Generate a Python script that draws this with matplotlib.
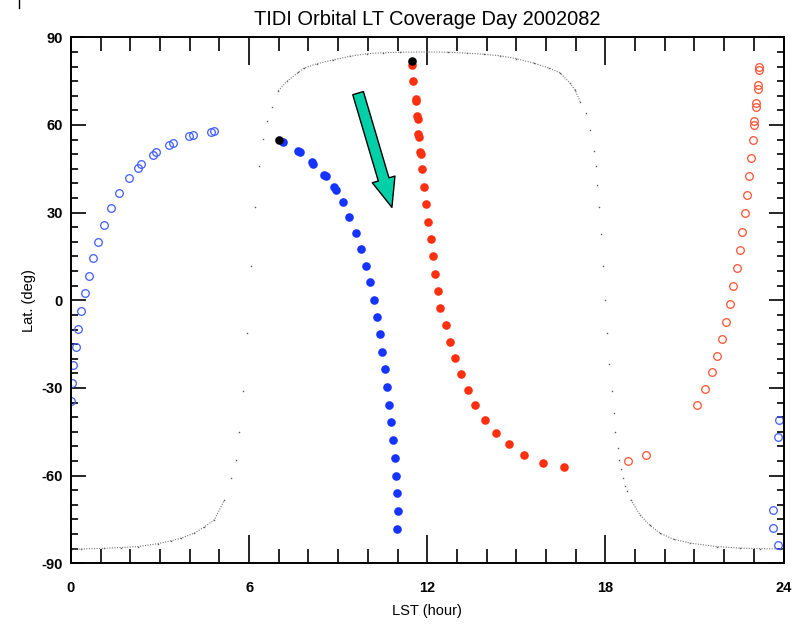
import numpy as np
import matplotlib
matplotlib.use("Agg")
import matplotlib.pyplot as plt
from matplotlib.patches import FancyArrowPatch
from matplotlib.lines import Line2D
from matplotlib.ticker import MultipleLocator

plt.rcParams["font.family"] = ["Liberation Sans", "DejaVu Sans"]
plt.rcParams["axes.unicode_minus"] = False

# day/night boundary (gray dots)
term_lst = [0.0, 0.34, 1.12, 1.68, 2.25, 2.92, 3.37, 3.71, 4.15, 4.49, 4.83, 5.17,
            5.38, 5.55, 5.67, 5.81, 5.92, 6.05, 6.19, 6.34, 6.47, 6.59, 6.76, 6.98,
            7.27, 7.66, 7.85, 8.30, 8.84, 9.40, 9.96, 10.50, 11.08, 11.98, 12.70, 13.33,
            13.90, 14.45, 15.00, 15.58, 16.10, 16.48,
            16.81, 16.98, 17.15, 17.35, 17.48, 17.60, 17.67, 17.73, 17.80, 17.86,
            17.92, 17.99, 18.06, 18.13, 18.22, 18.29, 18.34, 18.41, 18.47, 18.53,
            18.60, 18.67, 18.73, 18.86, 19.17, 19.50, 19.84, 20.30, 20.86, 21.76,
            22.54, 23.20, 23.89, 24.0]
term_lat = [-85.3, -85.1, -84.9, -84.6, -84.3, -83.3, -82.3, -81.4, -79.7, -77.6, -75.1, -68.3,
            -60.8, -54.7, -45.2, -31.2, -11.2, 11.8, 31.9, 45.8, 55.2, 61.4, 66.0, 71.7,
            74.9, 78.0, 79.5, 81.0, 82.3, 83.5, 84.4, 84.7, 84.9, 85.0, 84.9, 84.6,
            84.2, 83.7, 82.7, 81.2, 79.5, 77.8,
            74.3, 72.0, 68.0, 64.1, 58.4, 51.1, 45.8, 39.3, 31.9, 22.7,
            11.8, 0.2, -11.2, -21.8, -31.2, -38.7, -45.2, -50.5, -54.7, -57.9,
            -60.8, -63.4, -65.4, -68.3, -73.5, -77.0, -79.7, -81.8, -83.1, -84.3,
            -84.8, -85.0, -85.1, -85.2]

# ascending, night side (blue open)
asc_open_lst = [4.82, 4.72, 4.12, 3.98, 3.43, 3.31, 2.86, 2.75, 2.36, 2.27, 1.96, 1.63,
                1.35, 1.12, 0.92, 0.74, 0.61, 0.47, 0.35, 0.25, 0.17, 0.08, 0.02, 0.0,
                23.86, 23.80, 23.66, 23.66, 23.83]
asc_open_lat = [57.8, 57.6, 56.7, 56.1, 54.0, 53.2, 50.7, 49.7, 46.6, 45.4, 41.8, 36.7,
                31.6, 25.8, 20.1, 14.4, 8.4, 2.5, -3.6, -9.9, -16.0, -22.1, -28.3, -34.6,
                -40.9, -46.7, -71.9, -78.0, -83.9]

# descending, day side (blue filled)
blue_lst = [7.13, 7.64, 7.72, 8.11, 8.16, 8.53, 8.58, 8.87, 8.92, 9.15, 9.38, 9.60,
            9.77, 9.94, 10.07, 10.20, 10.31, 10.41, 10.49, 10.58, 10.66, 10.72, 10.78,
            10.84, 10.91, 10.95, 10.98, 11.01, 10.98]
blue_lat = [54.3, 51.2, 50.6, 47.5, 46.7, 42.9, 42.4, 38.7, 37.8, 33.7, 28.6, 23.0,
            17.4, 11.9, 6.2, 0.2, -5.6, -11.6, -17.6, -23.5, -29.7, -35.7, -41.8,
            -47.8, -53.9, -60.0, -65.9, -72.0, -78.1]

# red filled
red_lst = [11.50, 11.51, 11.61, 11.63, 11.66, 11.68, 11.70, 11.72, 11.76, 11.78, 11.83,
           11.88, 11.95, 12.03, 12.11, 12.19, 12.27, 12.36, 12.44, 12.64, 12.78, 12.95,
           13.15, 13.37, 13.62, 13.94, 14.30, 14.75, 15.27, 15.89, 16.59]
red_lat = [80.6, 75.0, 69.0, 68.2, 63.0, 62.2, 56.8, 56.0, 50.9, 50.1, 44.9,
           38.7, 32.9, 26.9, 20.9, 15.0, 9.1, 3.3, -2.7, -8.5, -14.2, -19.9,
           -25.3, -30.6, -36.0, -40.8, -45.3, -49.3, -52.8, -55.6, -57.2]

# red open
red_open_lst = [23.18, 23.18, 23.14, 23.15, 23.08, 23.08, 23.02, 23.02, 22.97, 22.90,
                22.84, 22.77, 22.69, 22.61, 22.53, 22.43, 22.31, 22.20, 22.07, 21.93,
                21.76, 21.59, 21.35, 21.08, 19.37, 18.77]
red_open_lat = [80.0, 78.9, 73.8, 72.3, 67.5, 66.3, 61.4, 60.1, 54.9, 48.8,
                42.5, 36.1, 29.8, 23.5, 17.3, 11.0, 5.0, -1.2, -7.3, -13.2,
                -19.0, -24.6, -30.3, -35.7, -52.9, -55.1]

# first points of each track
start_lst = [7.01, 11.48]
start_lat = [54.9, 82.0]

# arrow tail / head
arrow_tail = (9.67, 70.9)
arrow_head = (10.81, 31.8)

fig = plt.figure(figsize=(7.94, 6.24), dpi=100)
ax = fig.add_axes([0.0894, 0.0973, 0.8974, 0.8429])

blue_open_c = "#3f5cff"
blue_c = "#1634ff"
red_c = "#ff3010"
red_open_c = "#ff5030"

t_lst = np.array(term_lst)
t_lat = np.array(term_lat)
ax.plot(t_lst, t_lat, ls="none", marker="s", ms=1.0, mew=0, color="0.35")
flat = np.where(np.abs(t_lat) >= 68, t_lat, np.nan)
ax.plot(t_lst, flat, ls=(0, (1, 1.3)), lw=0.8, color="0.45")

ax.plot(asc_open_lst, asc_open_lat, ls="none", marker="o", ms=5.5, mfc="none",
        mec=blue_open_c, mew=0.9)
ax.plot(red_open_lst, red_open_lat, ls="none", marker="o", ms=5.5, mfc="none",
        mec=red_open_c, mew=0.9)
ax.plot(blue_lst, blue_lat, ls="none", marker="o", ms=6.2, color=blue_c, mew=0)
ax.plot(red_lst, red_lat, ls="none", marker="o", ms=6.2, color=red_c, mew=0)
ax.plot(start_lst, start_lat, ls="none", marker="o", ms=6.2, color="black", mew=0)

arrow = FancyArrowPatch(arrow_tail, arrow_head,
                        arrowstyle="simple,head_length=21,head_width=17,tail_width=8",
                        mutation_scale=1, fc="#00d0a8", ec="black", lw=1.0,
                        shrinkA=0, shrinkB=0, zorder=5)
ax.add_patch(arrow)

ax.set_xlim(0, 24)
ax.set_ylim(-90, 90)
ax.xaxis.set_major_locator(MultipleLocator(6))
ax.xaxis.set_minor_locator(MultipleLocator(1))
ax.yaxis.set_major_locator(MultipleLocator(30))
ax.yaxis.set_minor_locator(MultipleLocator(5))

ax.tick_params(which="both", direction="in", top=True, right=True, width=1.2,
               labelsize=10.5)
ax.tick_params(axis="x", which="major", length=20, pad=13)
ax.tick_params(axis="x", which="minor", length=10)
ax.tick_params(axis="y", which="major", length=10.5, pad=6)
ax.tick_params(axis="y", which="minor", length=5.2)
for lab in ax.get_xticklabels() + ax.get_yticklabels():
    lab.set_fontweight("bold")
for s in ax.spines.values():
    s.set_linewidth(1.4)

ax.set_xlabel("LST (hour)", fontsize=10.5, labelpad=6)
ax.set_ylabel("Lat. (deg)", fontsize=10.5, labelpad=4)
ax.set_title("TIDI Orbital LT Coverage Day 2002082", fontsize=14.4, pad=9)

fig.add_artist(Line2D([18.5 / 794, 18.5 / 794], [1.0, 1 - 8 / 624], color="black", lw=1.0))

fig.savefig("out.png", dpi=100)
